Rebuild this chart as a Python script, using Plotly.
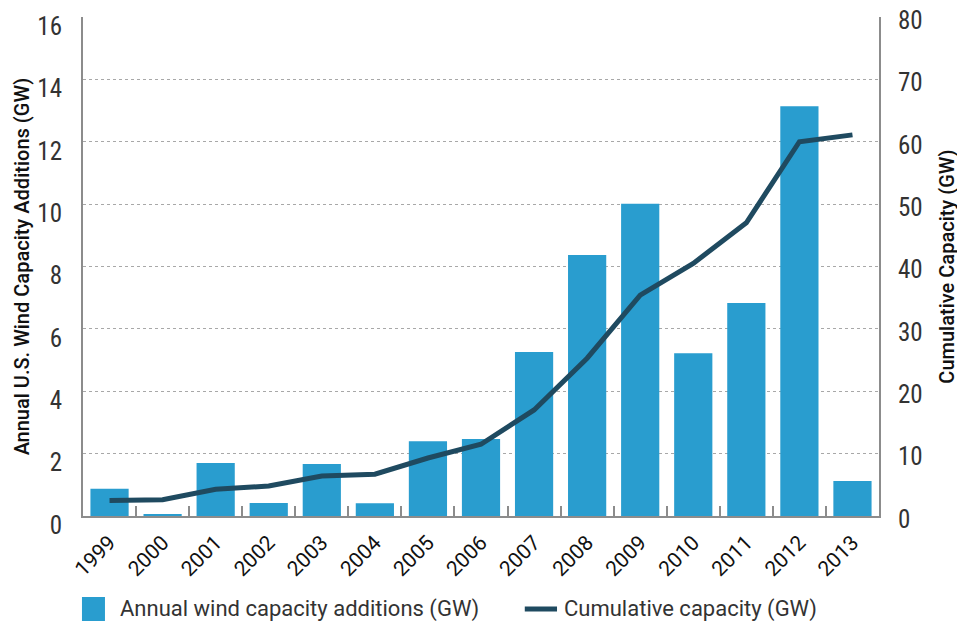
import plotly.graph_objects as go

years = ["1999", "2000", "2001", "2002", "2003", "2004", "2005", "2006",
         "2007", "2008", "2009", "2010", "2011", "2012", "2013"]
annual_additions = [0.87, 0.06, 1.70, 0.42, 1.67, 0.41, 2.40, 2.47,
                     5.26, 8.37, 10.01, 5.22, 6.83, 13.14, 1.12]
cumulative_capacity = [2.5, 2.6, 4.3, 4.8, 6.4, 6.7, 9.3, 11.5,
                       17.0, 25.3, 35.4, 40.5, 47.0, 60.0, 61.1]
left_ticks = [0, 2, 4, 6, 8, 10, 12, 14, 16]
right_ticks = [0, 10, 20, 30, 40, 50, 60, 70, 80]

BAR = "#299dcf"
LINE = "#1f4a60"
AXIS = "#8c8c8c"
TICKFONT = "Liberation Sans Narrow, Roboto Condensed, Roboto, sans-serif"
TEXTFONT = "Roboto, sans-serif"

fig = go.Figure()
fig.add_trace(go.Bar(
    x=years, y=annual_additions, name="Annual wind capacity additions (GW)",
    marker=dict(color=BAR, line=dict(width=0)), yaxis="y", showlegend=False,
))
fig.add_trace(go.Scatter(
    x=years, y=cumulative_capacity, name="Cumulative capacity (GW)",
    mode="lines", line=dict(color=LINE, width=5), yaxis="y2", showlegend=False,
))

# the page body adds an 8px offset; the figure is sized to fill the window exactly
fig.update_layout(
    width=957, height=619,
    margin=dict(l=75, r=86, t=9, b=111),
    plot_bgcolor="white", paper_bgcolor="white",
    bargap=0.28,
    xaxis=dict(
        type="category", showline=True, linecolor=AXIS, linewidth=2,
        ticks="inside", tickson="boundaries", ticklen=10, tickcolor=AXIS, tickwidth=2,
        tickangle=-45, tickfont=dict(family=TEXTFONT, size=21, color="#111"),
        showgrid=False, automargin=False, ticklabelstandoff=4,
    ),
    yaxis=dict(
        range=[0, 16], tickvals=left_ticks, showline=True, linecolor=AXIS, linewidth=2,
        ticks="", showgrid=True, gridcolor="#a8a8a8", griddash="dot", gridwidth=1,
        tickfont=dict(family=TICKFONT, size=25, color="#333"), ticklabelstandoff=14,
        ticklabelshift=9, ticklabeloverflow="allow",
        title=dict(text="Annual U.S. Wind Capacity Additions (GW)",
                   font=dict(family="Roboto Medium, Roboto, sans-serif", size=20, color="#111"),
                   standoff=2),
        zeroline=False, automargin=False,
    ),
    yaxis2=dict(
        range=[0, 80], tickvals=right_ticks, overlaying="y", side="right",
        showline=True, linecolor=AXIS, linewidth=2, ticks="", showgrid=False,
        tickfont=dict(family=TICKFONT, size=25, color="#333"), ticklabelstandoff=12,
        ticklabelshift=3, ticklabeloverflow="allow",
        title=dict(text="Cumulative Capacity (GW)",
                   font=dict(family="Roboto Medium, Roboto, sans-serif", size=20, color="#111"),
                   standoff=18),
        zeroline=False, automargin=False,
    ),
    shapes=[
        dict(type="rect", xref="paper", yref="paper", x0=-0.0013, x1=0.0276,
             y0=-0.2104, y1=-0.1623, fillcolor=BAR, line=dict(width=0)),
        dict(type="line", xref="paper", yref="paper", x0=0.555, x1=0.5955,
             y0=-0.1864, y1=-0.1864, line=dict(color=LINE, width=5)),
    ],
    annotations=[
        dict(text="Annual wind capacity additions (GW)", xref="paper", yref="paper",
             x=0.044, y=-0.1864, xanchor="left", yanchor="middle", showarrow=False,
             font=dict(family=TEXTFONT, size=22, color="#333")),
        dict(text="Cumulative capacity (GW)", xref="paper", yref="paper",
             x=0.6018, y=-0.1864, xanchor="left", yanchor="middle", showarrow=False,
             font=dict(family=TEXTFONT, size=22, color="#333")),
    ],
)

fig.write_html("out.html")
